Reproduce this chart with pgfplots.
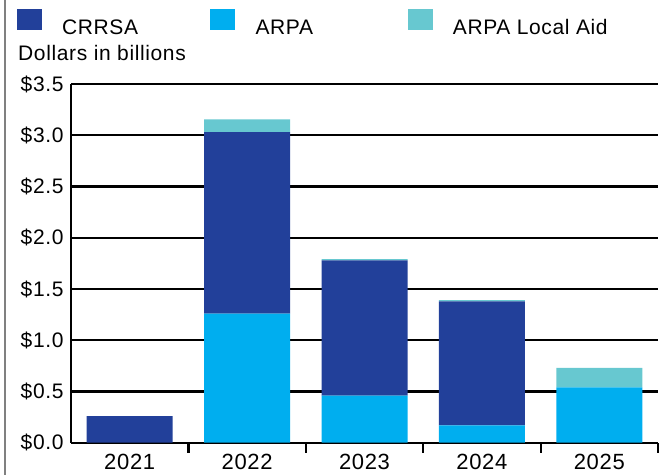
\documentclass[border=0pt]{standalone}
\usepackage{fontspec}
\setmainfont{Liberation Sans}[LetterSpace=3]
\usepackage{pgfplots}
\pgfplotsset{compat=1.18}
\definecolor{crrsa}{HTML}{22409A}
\definecolor{arpa}{HTML}{00AEEF}
\definecolor{localaid}{HTML}{67C8D0}
\begin{document}
\begin{tikzpicture}[x=1bp,y=1bp]
\useasboundingbox (0,0) rectangle (662,475);
\draw[color=black!50, line width=1.5bp] (5,0) -- (5,475);
\node[anchor=base west, inner sep=0pt, font=\fontsize{21bp}{24bp}\selectfont] at (18,414) {Dollars in billions};
\begin{axis}[
  at={(71bp,32.3bp)}, anchor=south west,
  scale only axis, width=587bp, height=358.7bp,
  ybar stacked, bar width=86bp,
  xmin=-0.5, xmax=4.5, ymin=0, ymax=3.5,
  xtick={0,1,2,3,4},
  xticklabels={2021,2022,2023,2024,2025},
  minor xtick={0.5,1.5,2.5,3.5,4.5},
  ytick={0,0.5,1,1.5,2,2.5,3,3.5},
  axis lines*=left,
  axis line style={black, line width=2.2bp},
  ymajorgrids, major grid style={black, line width=2.2bp},
  major tick length=0pt, minor tick length=10bp, tick align=outside,
  minor tick style={black, line width=2.2bp},
  yminorticks=false,
  /pgf/number format/assume math mode=true,
  yticklabel={\$\pgfmathprintnumber[fixed,fixed zerofill,precision=1]{\tick}},
  yticklabel style={font=\fontsize{21bp}{24bp}\selectfont, xshift=-4bp},
  xticklabel style={font=\fontsize{22bp}{24bp}\selectfont, yshift=-8bp},
  legend style={at={(axis description cs:-0.0925,1.2083)}, anchor=north west,
    draw=none, fill=none, inner sep=0pt, outer sep=0pt,
    legend columns=3, font=\fontsize{21bp}{24bp}\selectfont,
    /tikz/every odd column/.append style={column sep=21bp},
    nodes={inner sep=0pt}},
  legend cell align=left,
]
\addlegendimage{legend image code/.code={\fill[crrsa] (0bp,0bp) rectangle (24bp,20bp);}}
\addlegendentry{\raisebox{3bp}{\makebox[148bp][l]{CRRSA}}}
\addlegendimage{legend image code/.code={\fill[arpa] (0bp,0bp) rectangle (24bp,20bp);}}
\addlegendentry{\raisebox{3bp}{\makebox[152bp][l]{ARPA}}}
\addlegendimage{legend image code/.code={\fill[localaid] (0bp,0bp) rectangle (24bp,20bp);}}
\addlegendentry{\raisebox{3bp}{ARPA Local Aid}}
\addplot[fill=arpa, draw=none, forget plot] coordinates {(0,0) (1,1.26) (2,0.46) (3,0.17) (4,0.54)};
\addplot[fill=crrsa, draw=none, forget plot] coordinates {(0,0.26) (1,1.77) (2,1.32) (3,1.21) (4,0)};
\addplot[fill=localaid, draw=none, forget plot] coordinates {(0,0) (1,0.125) (2,0.01) (3,0.01) (4,0.19)};
\end{axis}
\end{tikzpicture}
\end{document}
